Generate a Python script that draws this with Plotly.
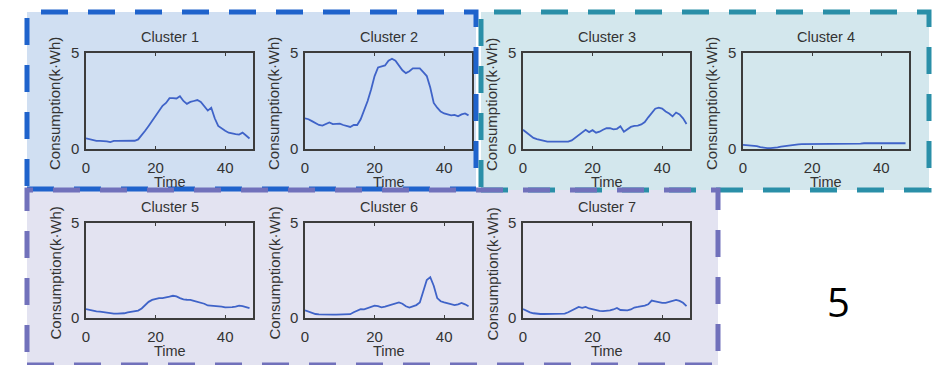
import plotly.graph_objects as go

W, H = 933, 365

time_idx = list(range(48))

cluster1 = [0.56,0.5,0.45,0.42,0.42,0.42,0.4,0.36,0.42,0.42,0.42,0.42,0.42,0.42,0.43,0.5,
            0.7,0.95,1.2,1.45,1.7,1.95,2.25,2.4,2.65,2.65,2.63,2.75,2.5,2.35,2.45,2.5,
            2.55,2.45,2.25,2.0,2.15,1.6,1.2,1.05,0.95,0.85,0.8,0.78,0.75,0.85,0.7,0.55]
cluster2 = [1.6,1.55,1.45,1.35,1.25,1.22,1.3,1.38,1.3,1.3,1.32,1.25,1.22,1.15,1.25,1.25,
            1.55,2.0,2.5,3.1,3.8,4.25,4.3,4.35,4.6,4.7,4.6,4.35,4.1,3.95,4.05,4.2,
            4.2,4.2,4.0,3.8,3.2,2.4,2.15,1.95,1.85,1.8,1.75,1.78,1.7,1.8,1.85,1.75]
cluster3 = [1.0,0.85,0.68,0.58,0.52,0.47,0.42,0.38,0.38,0.38,0.38,0.38,0.38,0.38,0.45,0.6,
            0.75,0.9,1.0,0.88,0.98,0.85,0.9,1.0,1.08,1.08,1.02,1.05,1.18,0.9,1.05,1.15,
            1.2,1.22,1.28,1.4,1.65,1.9,2.1,2.15,2.1,1.95,1.85,1.7,1.9,1.8,1.6,1.3]
cluster4 = [0.22,0.2,0.2,0.18,0.15,0.1,0.06,0.05,0.05,0.06,0.08,0.12,0.15,0.18,0.2,0.22,
            0.24,0.25,0.25,0.25,0.25,0.25,0.25,0.25,0.25,0.25,0.25,0.25,0.25,0.25,0.25,0.25,
            0.25,0.26,0.28,0.3,0.3,0.3,0.3,0.3,0.3,0.3,0.3,0.28,0.3,0.3,0.3,0.3]
cluster5 = [0.47,0.42,0.38,0.35,0.33,0.3,0.26,0.24,0.23,0.23,0.23,0.25,0.3,0.32,0.35,0.39,
            0.5,0.68,0.85,0.95,1.0,1.05,1.05,1.07,1.12,1.17,1.14,1.05,0.98,0.96,0.95,0.9,
            0.86,0.82,0.75,0.66,0.65,0.65,0.64,0.6,0.56,0.55,0.57,0.6,0.65,0.62,0.58,0.52]
cluster6 = [0.4,0.33,0.25,0.21,0.19,0.18,0.18,0.18,0.18,0.18,0.18,0.18,0.18,0.2,0.3,0.38,
            0.47,0.45,0.53,0.58,0.65,0.62,0.56,0.6,0.65,0.68,0.76,0.82,0.75,0.62,0.55,0.6,
            0.68,0.82,1.35,2.0,2.15,1.7,1.05,0.88,0.82,0.76,0.7,0.68,0.72,0.79,0.72,0.62]
cluster7 = [0.47,0.38,0.3,0.25,0.22,0.21,0.21,0.21,0.21,0.21,0.21,0.22,0.23,0.3,0.4,0.5,
            0.58,0.53,0.58,0.5,0.45,0.42,0.38,0.36,0.37,0.4,0.45,0.53,0.42,0.4,0.4,0.45,
            0.55,0.58,0.6,0.65,0.72,0.92,0.88,0.82,0.8,0.8,0.85,0.9,0.95,0.9,0.8,0.62]

titles = ["Cluster 1", "Cluster 2", "Cluster 3", "Cluster 4", "Cluster 5", "Cluster 6", "Cluster 7"]
series = [cluster1, cluster2, cluster3, cluster4, cluster5, cluster6, cluster7]
x_ticks = [0, 20, 40]
y_ticks = [0, 5]
x_title = "Time"
y_title = "Consumption(k·Wh)"
panel_label = "5"

# layout (pixel positions)
cols = [(86, 253), (305, 472), (523, 690), (743, 909)]
rows = [(53, 149), (223, 318)]
cells = [(0, 0), (0, 1), (0, 2), (0, 3), (1, 0), (1, 1), (1, 2)]

FONT = "Liberation Sans, Arial, sans-serif"
TXT = "#333333"
AX = "#3c3c3c"
LINE = "#3f63c8"

def px(x):
    return x / W

def py(y):
    return 1 - y / H

fig = go.Figure()
layout = dict(template="none", width=W, height=H, autosize=False,
              margin=dict(l=0, r=0, t=0, b=0, pad=0),
              paper_bgcolor="white", plot_bgcolor="rgba(0,0,0,0)",
              showlegend=False, font=dict(family=FONT, color=TXT, size=15))
annotations = []
shapes = []

# background boxes (fill below, dashed outlines above)
boxes = [
    ((27, 12, 476, 189), "#d0dff2", "#1f63cc"),
    ((481, 12, 929, 190), "#d3e7ed", "#2a8fa8"),
    ((27, 190, 718, 365), "#e3e3f1", "#7171bb"),
]
for (x0, y0, x1, y1), fill, _ in boxes:
    shapes.append(dict(type="rect", xref="paper", yref="paper",
                       x0=px(x0), x1=px(x1), y0=py(y1), y1=py(y0),
                       fillcolor=fill, line=dict(width=0), layer="below"))
for (x0, y0, x1, y1), _, col in boxes:
    shapes.append(dict(type="rect", xref="paper", yref="paper",
                       x0=px(x0), x1=px(x1), y0=py(y1), y1=py(y0),
                       fillcolor="rgba(0,0,0,0)",
                       line=dict(width=5, color=col, dash="27px,20px"), layer="above"))

for i, (r, c) in enumerate(cells):
    k = "" if i == 0 else str(i + 1)
    xa, ya = "xaxis" + k, "yaxis" + k
    x0, x1 = cols[c]
    y0, y1 = rows[r]
    fig.add_trace(go.Scatter(x=time_idx, y=series[i], mode="lines",
                             line=dict(color=LINE, width=1.8),
                             xaxis="x" + k, yaxis="y" + k, hoverinfo="skip"))
    layout[xa] = dict(domain=[px(x0), px(x1)], anchor="y" + k, range=[0, 48],
                      tickvals=x_ticks, ticks="inside", ticklen=3, tickcolor=AX,
                      showline=True, linecolor=AX, linewidth=1.6, mirror="ticks",
                      showgrid=False, zeroline=False, ticklabelstandoff=4,
                      automargin=False,
                      tickfont=dict(size=15, color=TXT, family=FONT))
    layout[ya] = dict(domain=[py(y1), py(y0)], anchor="x" + k, range=[0, 5],
                      tickvals=y_ticks, ticks="inside", ticklen=3, tickcolor=AX,
                      showline=True, linecolor=AX, linewidth=1.6, mirror="ticks",
                      showgrid=False, zeroline=False, ticklabelstandoff=2,
                      automargin=False,
                      tickfont=dict(size=15, color=TXT, family=FONT))
    cx = (x0 + x1) / 2
    annotations.append(dict(text=titles[i], x=px(cx), y=py(y0 - 16), xref="paper", yref="paper",
                            showarrow=False, xanchor="center", yanchor="middle",
                            font=dict(size=14.5, color=TXT, family=FONT)))
    annotations.append(dict(text=x_title, x=px(cx), y=py(y1 + 33), xref="paper", yref="paper",
                            showarrow=False, xanchor="center", yanchor="middle",
                            font=dict(size=14.5, color=TXT, family=FONT)))
    annotations.append(dict(text=y_title, x=px(x0 - 31), y=py((y0 + y1) / 2 + 3), xref="paper",
                            yref="paper", showarrow=False, textangle=-90,
                            xanchor="center", yanchor="middle",
                            font=dict(size=15, color=TXT, family=FONT)))

annotations.append(dict(text=panel_label, x=px(838), y=py(301), xref="paper", yref="paper",
                        showarrow=False, xanchor="center", yanchor="middle",
                        font=dict(size=40, color="#000000", family="Open Sans, Liberation Sans, sans-serif")))

layout["annotations"] = annotations
layout["shapes"] = shapes
fig.update_layout(**layout)
fig.write_html("out.html", config={"displayModeBar": False, "staticPlot": True},
               post_script="document.body.style.margin='0';document.body.style.overflow='hidden';")
